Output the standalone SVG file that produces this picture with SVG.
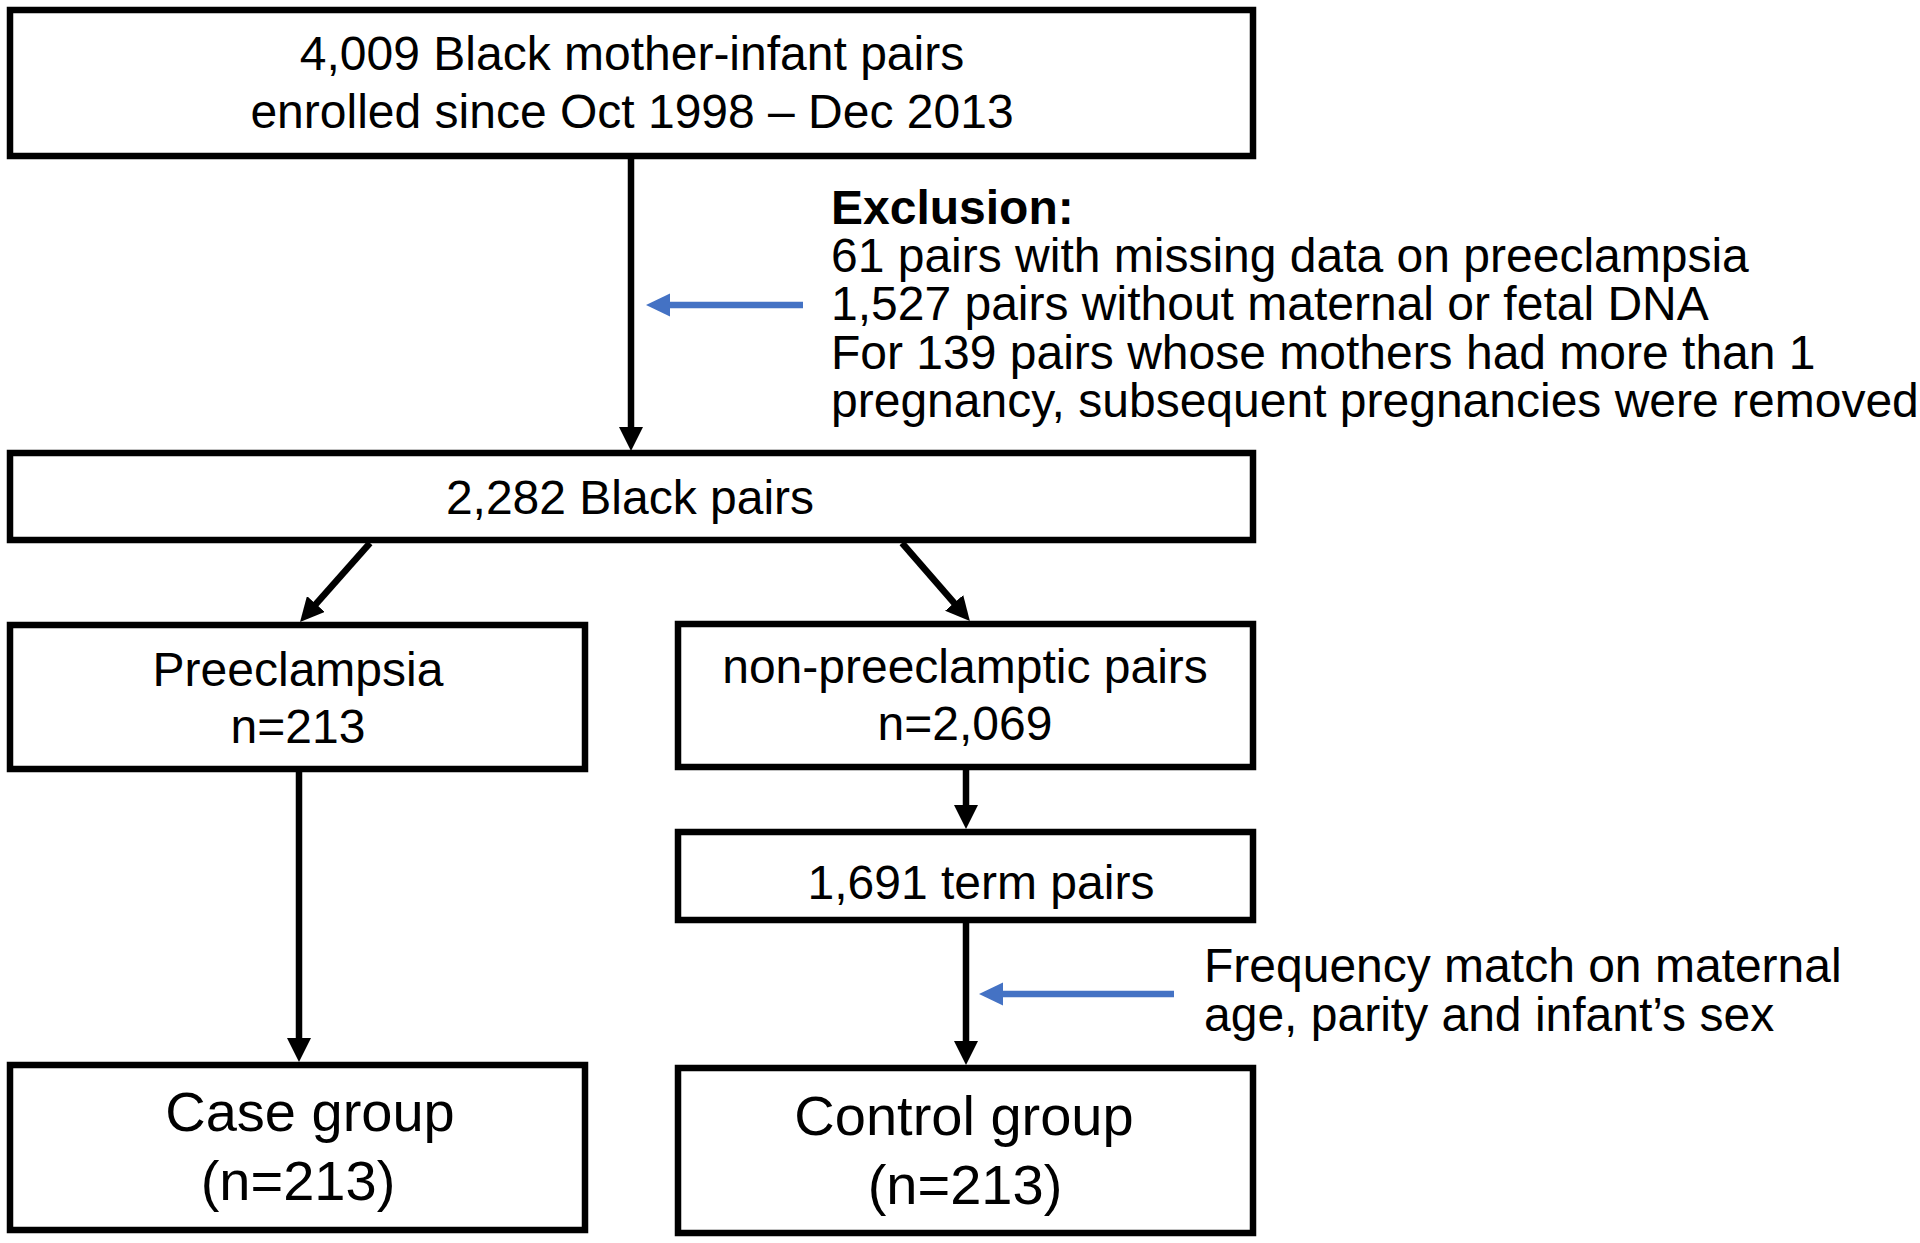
<svg xmlns="http://www.w3.org/2000/svg" width="1920" height="1243" viewBox="0 0 1920 1243">
<defs>
<style>
.box{fill:#fff;stroke:#000;stroke-width:6.5}
.t{font-family:"Liberation Sans",Arial,Helvetica,sans-serif;font-size:48px;fill:#000}
.c{text-anchor:middle}
.big{font-size:56px}
.b{font-weight:bold}
.con{stroke:#000;stroke-width:6.5;fill:none}
.blue{stroke:#4472C4;stroke-width:6.5;fill:none}
</style>
<marker id="ah" markerUnits="userSpaceOnUse" markerWidth="24" markerHeight="24" refX="12" refY="12" orient="auto" viewBox="0 0 24 24">
<path d="M0,0 L24,12 L0,24 z" fill="#000"/>
</marker>
<marker id="bh" markerUnits="userSpaceOnUse" markerWidth="24" markerHeight="24" refX="12" refY="12" orient="auto" viewBox="0 0 24 24">
<path d="M0,0.5 L24,12 L0,23.5 z" fill="#4472C4"/>
</marker>
</defs>
<rect width="1920" height="1243" fill="#fff"/>
<g id="connectors">
<line class="con" x1="631" y1="159" x2="631" y2="439" marker-end="url(#ah)"/>
<line class="con" x1="370" y1="543" x2="308" y2="613" marker-end="url(#ah)"/>
<line class="con" x1="902" y1="543" x2="962" y2="612" marker-end="url(#ah)"/>
<line class="con" x1="299" y1="772" x2="299" y2="1050" marker-end="url(#ah)"/>
<line class="con" x1="966" y1="770" x2="966" y2="817" marker-end="url(#ah)"/>
<line class="con" x1="966" y1="923" x2="966" y2="1053" marker-end="url(#ah)"/>
<line class="blue" x1="803" y1="305" x2="658" y2="305" marker-end="url(#bh)"/>
<line class="blue" x1="1174" y1="994" x2="991" y2="994" marker-end="url(#bh)"/>
</g>
<g id="enrolled">
<rect class="box" x="10" y="10" width="1243" height="146"/>
<text class="t c" x="632" y="70">4,009 Black mother-infant pairs</text>
<text class="t c" x="632" y="128">enrolled since Oct 1998 – Dec 2013</text>
</g>
<g id="exclusion">
<text class="t b" x="831" y="224">Exclusion:</text>
<text class="t" x="831" y="272">61 pairs with missing data on preeclampsia</text>
<text class="t" x="831" y="320">1,527 pairs without maternal or fetal DNA</text>
<text class="t" x="831" y="369">For 139 pairs whose mothers had more than 1</text>
<text class="t" x="831" y="417">pregnancy, subsequent pregnancies were removed</text>
</g>
<g id="black-pairs">
<rect class="box" x="10" y="453" width="1243" height="87"/>
<text class="t c" x="630" y="514">2,282 Black pairs</text>
</g>
<g id="preeclampsia">
<rect class="box" x="10" y="625" width="575" height="144"/>
<text class="t c" x="298" y="686">Preeclampsia</text>
<text class="t c" x="298" y="743">n=213</text>
</g>
<g id="non-preeclamptic">
<rect class="box" x="678" y="624" width="575" height="143"/>
<text class="t c" x="965" y="683">non-preeclamptic pairs</text>
<text class="t c" x="965" y="740">n=2,069</text>
</g>
<g id="term-pairs">
<rect class="box" x="678" y="832" width="575" height="88"/>
<text class="t c" x="981" y="899">1,691 term pairs</text>
</g>
<g id="frequency-match">
<text class="t" x="1204" y="982">Frequency match on maternal</text>
<text class="t" x="1204" y="1031">age, parity and infant’s sex</text>
</g>
<g id="case-group">
<rect class="box" x="10" y="1065" width="575" height="165"/>
<text class="t c big" x="310" y="1131">Case group</text>
<text class="t c big" x="298" y="1200">(n=213)</text>
</g>
<g id="control-group">
<rect class="box" x="678" y="1068" width="575" height="165"/>
<text class="t c big" x="964" y="1135">Control group</text>
<text class="t c big" x="965" y="1204">(n=213)</text>
</g>
</svg>
